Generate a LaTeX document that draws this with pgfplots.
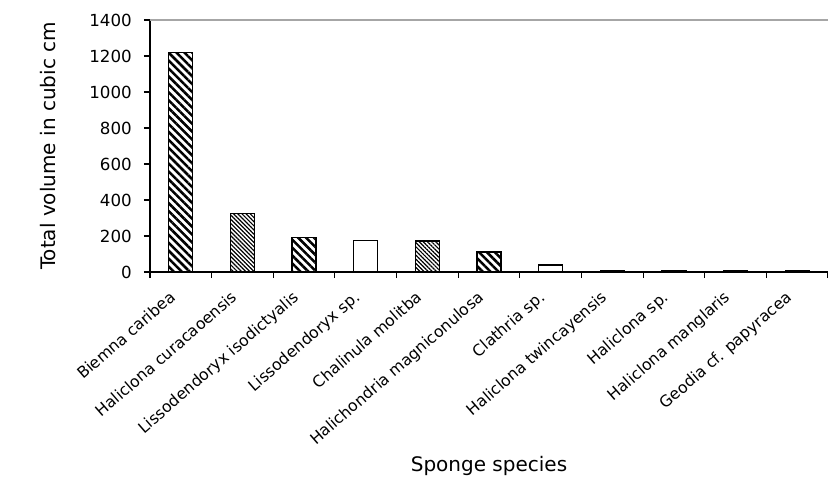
\documentclass[border=0pt]{standalone}
\usepackage{fontspec}
\setmainfont{DejaVu Sans}
\usepackage{pgfplots}
\pgfplotsset{compat=1.18}
\usetikzlibrary{patterns.meta}
\begin{document}
\begin{tikzpicture}
\begin{axis}[
  scale only axis, width=508.5pt, height=189pt,
  xmin=-0.5, xmax=10.5, ymin=0, ymax=1400,
  ytick={0,200,...,1400},
  xtick={0,...,10},
  xticklabels={Biemna caribea, Haliclona curacaoensis, Lissodendoryx isodictyalis, Lissodendoryx sp., Chalinula molitba, Halichondria magniconulosa, Clathria sp., Haliclona twincayensis, Haliclona sp., Haliclona manglaris, Geodia cf. papyracea},
  minor xtick={-0.5,0.5,...,10.5},
  axis x line*=bottom, axis y line*=left,
  axis line style={line width=1pt, -},
  tick align=outside,
  major tick length=4.5pt, minor tick length=4.5pt,
  major x tick style={draw=none},
  tick style={black, line width=0.8pt},
  /pgf/number format/assume math mode=true,
  /pgf/number format/1000 sep={},
  yticklabel style={font=\fontsize{12.5}{14}\selectfont, inner sep=2pt, xshift=-7pt},
  xticklabel style={font=\fontsize{11.8}{13}\selectfont, rotate=41, anchor=north east, inner sep=1pt, xshift=-11.7pt, yshift=0.4pt},
  ylabel={Total volume in cubic cm},
  xlabel={Sponge species},
  label style={font=\fontsize{15}{17}\selectfont},
  ylabel style={at={(axis description cs:-0.1504,0.5)}, anchor=center},
  xlabel style={at={(axis description cs:0.5,-0.7698)}, anchor=center},
  clip=false,
]
\draw[gray!70, line width=0.8pt] (rel axis cs:0,1) -- (rel axis cs:1,1);
\pgfplotsset{
  wide/.style={ybar, bar shift=0pt, bar width=18pt, draw=black, line width=1pt,
    pattern={Lines[angle=-45,distance=4.2pt,line width=1.9pt]}},
  dense/.style={ybar, bar shift=0pt, bar width=18pt, draw=black, line width=1pt,
    pattern={Lines[angle=-45,distance=2.2pt,line width=0.9pt]}},
  plain/.style={ybar, bar shift=0pt, bar width=18pt, draw=black, line width=1pt, fill=white},
}
\addplot[wide] coordinates {(0,1218)};
\addplot[dense] coordinates {(1,324)};
\addplot[wide] coordinates {(2,190)};
\addplot[plain] coordinates {(3,175)};
\addplot[dense] coordinates {(4,172)};
\addplot[wide] coordinates {(5,112)};
\addplot[plain] coordinates {(6,39)};
\addplot[plain] coordinates {(7,8)};
\addplot[plain] coordinates {(8,7)};
\addplot[plain] coordinates {(9,5)};
\addplot[plain] coordinates {(10,5)};
\end{axis}
\pgfresetboundingbox
\path[use as bounding box] (-112.5pt,-154.5pt) rectangle (508.5pt,204pt);
\end{tikzpicture}
\end{document}
